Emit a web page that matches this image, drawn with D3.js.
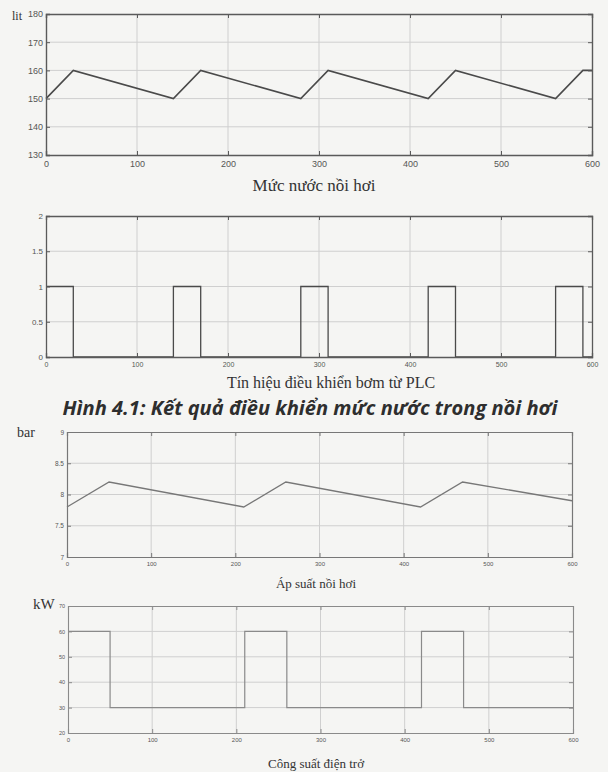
<!DOCTYPE html>
<meta charset="utf-8">
<style>
body { margin: 0; background: #f5f5f3; }
svg { display: block; }
.tick text { font-family: "Liberation Sans Narrow", "Liberation Sans", sans-serif; fill: #555; }
.grid line { stroke: #cfcfcf; stroke-width: 1; }
.ttl { font-family: "Liberation Serif", "DejaVu Serif", serif; fill: #333; }
</style>
<svg width="608" height="772"></svg>
<script src="https://d3js.org/d3.v7.min.js"></script>
<script>

var svg = d3.select("svg");

// shared time axis (s)
var xTicks = [0, 100, 200, 300, 400, 500, 600];

// boiler water level (lit)
var levelT = [0, 30, 140, 170, 280, 310, 420, 450, 560, 590, 600];
var levelV = [150, 160, 150, 160, 150, 160, 150, 160, 150, 160, 160];
var levelTicks = [130, 140, 150, 160, 170, 180];

// pump control signal from PLC
var pumpT = [0, 30, 140, 170, 280, 310, 420, 450, 560, 590, 600];
var pumpV = [1, 0, 1, 0, 1, 0, 1, 0, 1, 0, 0];
var pumpTicks = [0, 0.5, 1, 1.5, 2];

// boiler pressure (bar)
var pressT = [0, 50, 210, 260, 420, 470, 600];
var pressV = [7.8, 8.2, 7.8, 8.2, 7.8, 8.2, 7.9];
var pressTicks = [7, 7.5, 8, 8.5, 9];

// heater power (kW)
var powerT = [0, 50, 210, 260, 420, 470, 600];
var powerV = [60, 30, 60, 30, 60, 30, 30];
var powerTicks = [20, 30, 40, 50, 60, 70];

function panel(o) {
  var x = d3.scaleLinear().domain([0, 600]).range([o.left, o.right]);
  var y = d3.scaleLinear().domain(d3.extent(o.yTicks)).range([o.bottom, o.top]);
  var g = svg.append("g");

  // grid
  var grid = g.append("g").attr("class", "grid");
  grid.selectAll(".gx").data(xTicks.slice(1, -1)).enter().append("line")
      .attr("x1", x).attr("x2", x).attr("y1", o.top).attr("y2", o.bottom);
  grid.selectAll(".gy").data(o.yTicks.slice(1, -1)).enter().append("line")
      .attr("x1", o.left).attr("x2", o.right).attr("y1", y).attr("y2", y);

  // data line
  var line = d3.line()
      .x(function(d) { return x(d[0]); })
      .y(function(d) { return y(d[1]); })
      .curve(o.step ? d3.curveStepAfter : d3.curveLinear);
  g.append("path")
      .datum(d3.zip(o.t, o.v))
      .attr("fill", "none")
      .attr("stroke", o.lineColor)
      .attr("stroke-width", o.lineWidth)
      .attr("d", line);

  // axes with inward ticks, matlab style
  var ax = g.append("g").attr("transform", "translate(0," + o.bottom + ")")
      .call(d3.axisBottom(x).tickValues(xTicks).tickSize(-4).tickPadding(o.xPad).tickFormat(d3.format("d")));
  var ay = g.append("g").attr("transform", "translate(" + o.left + ",0)")
      .call(d3.axisLeft(y).tickValues(o.yTicks).tickSize(-4).tickPadding(3).tickFormat(d3.format("~g")));
  var at = g.append("g").attr("transform", "translate(0," + o.top + ")")
      .call(d3.axisTop(x).tickValues(xTicks).tickSize(-4).tickFormat(""));
  var ar = g.append("g").attr("transform", "translate(" + o.right + ",0)")
      .call(d3.axisRight(y).tickValues(o.yTicks).tickSize(-4).tickFormat(""));
  [ax, ay, at, ar].forEach(function(a) {
    a.select(".domain").attr("stroke", o.boxColor).attr("stroke-width", o.boxWidth);
    a.selectAll(".tick line").attr("stroke", o.boxColor);
  });
  ax.selectAll(".tick text").style("font-size", o.xFont + "px");
  ay.selectAll(".tick text").style("font-size", o.yFont + "px");

  // unit and title
  g.append("text").attr("class", "ttl")
      .attr("x", o.unitX).attr("y", o.unitY)
      .style("font-size", o.unitSize + "px")
      .text(o.unit);
  g.append("text").attr("class", "ttl")
      .attr("x", o.titleX).attr("y", o.titleY)
      .attr("text-anchor", "middle")
      .style("font-size", o.titleSize + "px")
      .text(o.title);
}

panel({
  t: levelT, v: levelV, yTicks: levelTicks,
  left: 46, right: 592, top: 14, bottom: 155,
  lineColor: "#4a4a4a", lineWidth: 1.6, boxColor: "#5a5a5a", boxWidth: 1.4,
  xFont: 9, yFont: 9, xPad: 6,
  unit: "lit", unitX: 12, unitY: 20, unitSize: 12,
  title: "Mức nước nồi hơi", titleX: 314, titleY: 191, titleSize: 17
});

panel({
  t: pumpT, v: pumpV, yTicks: pumpTicks, step: true,
  left: 46, right: 592, top: 216, bottom: 357,
  lineColor: "#4a4a4a", lineWidth: 1.3, boxColor: "#5a5a5a", boxWidth: 1.3,
  xFont: 7, yFont: 8, xPad: 5,
  unit: "", unitX: 0, unitY: 0, unitSize: 12,
  title: "Tín hiệu điều khiển bơm từ PLC", titleX: 331, titleY: 388, titleSize: 16
});

svg.append("text")
    .attr("x", 310).attr("y", 415)
    .attr("text-anchor", "middle")
    .attr("textLength", 495).attr("lengthAdjust", "spacingAndGlyphs")
    .style("font-family", "'Open Sans', 'Noto Sans', sans-serif")
    .style("font-weight", 700).style("font-style", "italic")
    .style("font-size", "20px").style("fill", "#2e2e2e")
    .text("Hình 4.1: Kết quả điều khiển mức nước trong nồi hơi");

panel({
  t: pressT, v: pressV, yTicks: pressTicks,
  left: 67, right: 572, top: 432, bottom: 557,
  lineColor: "#777", lineWidth: 1.3, boxColor: "#777", boxWidth: 1.2,
  xFont: 6, yFont: 6.5, xPad: 5,
  unit: "bar", unitX: 17, unitY: 437, unitSize: 14,
  title: "Áp suất nồi hơi", titleX: 316, titleY: 588, titleSize: 13
});

panel({
  t: powerT, v: powerV, yTicks: powerTicks, step: true,
  left: 68, right: 573, top: 606, bottom: 733,
  lineColor: "#8a8a8a", lineWidth: 1.2, boxColor: "#8a8a8a", boxWidth: 1.1,
  xFont: 6, yFont: 5.5, xPad: 5,
  unit: "kW", unitX: 33, unitY: 609, unitSize: 15,
  title: "Công suất điện trở", titleX: 316, titleY: 768, titleSize: 13
});

</script>
